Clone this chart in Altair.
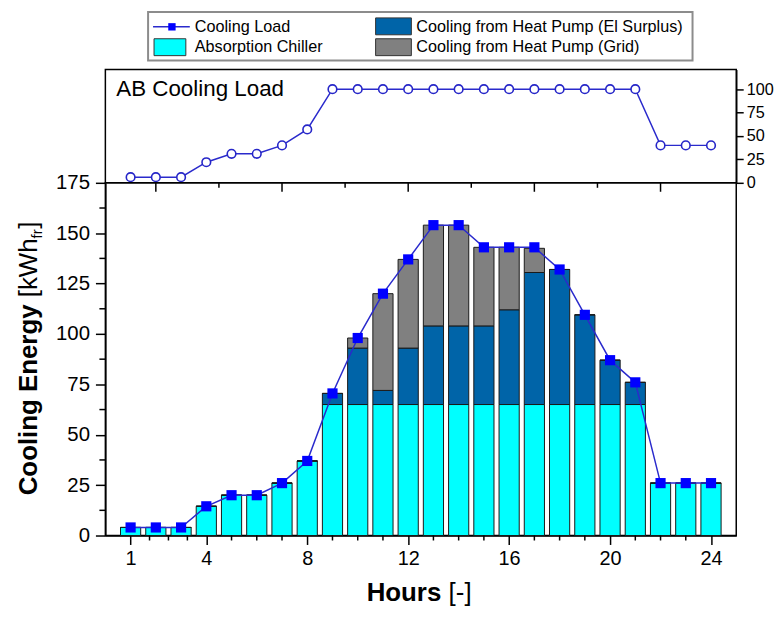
import altair as alt
import pandas as pd

# ---------------- data ----------------
hours = list(range(1, 25))
absorption_chiller = [4, 4, 4, 14.5, 20, 20, 26, 37, 65, 65, 65, 65, 65, 65, 65, 65, 65, 65, 65, 65, 65, 26, 26, 26]
hp_el_surplus = [0, 0, 0, 0, 0, 0, 0, 0, 5.5, 28, 7, 28, 39, 39, 39, 47, 65.5, 67, 44.5, 22, 11, 0, 0, 0]
hp_grid = [0, 0, 0, 0, 0, 0, 0, 0, 0, 5, 48, 44, 50, 50, 39, 31, 12, 0, 0, 0, 0, 0, 0, 0]
cooling_load = [4, 4, 4, 14.5, 20, 20, 26, 37, 70.5, 98, 120, 137, 154, 154, 143, 143, 143, 132, 109.5, 87, 76, 26, 26, 26]
ab_cooling_load = [6, 6, 6, 22, 31, 31, 40, 57, 100, 100, 100, 100, 100, 100, 100, 100, 100, 100, 100, 100, 100, 40, 40, 40]

components = ["Absorption Chiller", "Cooling from Heat Pump (El Surplus)", "Cooling from Heat Pump (Grid)"]
comp_colors = ["#00FFFF", "#0064A8", "#808080"]

x_major = [1, 4, 8, 12, 16, 20, 24]
x_minor = [1.75, 2.5, 3.25, 5, 6, 7, 9, 10, 11, 13, 14, 15, 17, 18, 19, 21, 22, 23]
y_major = [0, 25, 50, 75, 100, 125, 150, 175]
y_minor = [12.5, 37.5, 62.5, 87.5, 112.5, 137.5, 162.5]
top_ticks_major = [2, 7, 12, 17, 22]
top_ticks_minor = [4.5, 9.5, 14.5, 19.5]
ab_ticks = [0, 25, 50, 75, 100]

FONT = "Liberation Sans"
W = 635
H_LEG = 58
H_TOP = 114
H_MAIN = 355
LINE_COL = "#2A2ACC"
MARK_COL = "#0000FF"
FRAME = alt.ViewBackground(stroke="black", strokeWidth=1.5)

# ---------------- tables ----------------
rows = []
for i, h in enumerate(hours):
    base = 0.0
    for k, (c, vals) in enumerate(zip(components, [absorption_chiller, hp_el_surplus, hp_grid])):
        v = vals[i]
        rows.append({"hour": h, "comp": c, "ord": k, "lo": base, "hi": base + v})
        base += v
bars_df = pd.DataFrame(rows)
load_df = pd.DataFrame({"hour": hours, "load": cooling_load})
ab_df = pd.DataFrame({"hour": hours, "ab": ab_cooling_load})
one = pd.DataFrame({"d": [0]})

xs = alt.Scale(domain=[0, 25], nice=False, zero=False)
ys = alt.Scale(domain=[0, 175], nice=False)
ys_top = alt.Scale(domain=[0, 121], nice=False)

common = dict(grid=False, format="d", domainColor="black", domainWidth=1.5, tickColor="black",
              tickWidth=1.5, labelColor="black", labelFont=FONT)
x_axis = alt.Axis(values=x_major, tickSize=9, labelPadding=4, labelFontSize=20, **common)
y_axis = alt.Axis(values=y_major, tickSize=10, labelPadding=6, labelFontSize=20.5, **common)
r_axis = alt.Axis(orient="right", values=ab_ticks, tickSize=7, labelPadding=3, labelFontSize=16.3, **common)

# ---------------- main panel ----------------
bars = alt.Chart(bars_df).transform_calculate(
    x0="datum.hour - 0.4", x1="datum.hour + 0.4"
).mark_bar(stroke="#1a1a1a", strokeWidth=1).encode(
    x=alt.X("x0:Q", scale=xs, title=None, axis=x_axis),
    x2="x1:Q",
    y=alt.Y("lo:Q", scale=ys, title=None, axis=y_axis),
    y2="hi:Q",
    color=alt.Color("comp:N", scale=alt.Scale(domain=components, range=comp_colors), legend=None),
)

line = alt.Chart(load_df).mark_line(color=LINE_COL, strokeWidth=1.5).encode(
    x=alt.X("hour:Q", scale=xs, title=None, axis=x_axis),
    y=alt.Y("load:Q", scale=ys, title=None, axis=y_axis),
)
pts = alt.Chart(load_df).mark_point(shape="square", filled=True, color=MARK_COL, size=105, opacity=1).encode(
    x=alt.X("hour:Q", scale=xs, title=None, axis=x_axis),
    y=alt.Y("load:Q", scale=ys, title=None, axis=y_axis),
)

xminor = alt.Chart(pd.DataFrame({"h": x_minor})).mark_rule(color="black", strokeWidth=1.5).encode(
    x=alt.X("h:Q", scale=xs, title=None, axis=x_axis), y=alt.value(H_MAIN), y2=alt.value(H_MAIN + 5))
yminor = alt.Chart(pd.DataFrame({"v": y_minor})).mark_rule(color="black", strokeWidth=1.5).encode(
    y=alt.Y("v:Q", scale=ys, title=None, axis=y_axis), x=alt.value(-6), x2=alt.value(0))
topmaj = alt.Chart(pd.DataFrame({"h": top_ticks_major})).mark_rule(color="black", strokeWidth=1.5).encode(
    x=alt.X("h:Q", scale=xs, title=None, axis=x_axis), y=alt.value(0), y2=alt.value(9))
topmin = alt.Chart(pd.DataFrame({"h": top_ticks_minor})).mark_rule(color="black", strokeWidth=1.5).encode(
    x=alt.X("h:Q", scale=xs, title=None, axis=x_axis), y=alt.value(0), y2=alt.value(5))

# y title (rich text: bold + regular + subscript), reading upwards
YT_X = -77
TFS = 26


def ytext(txt, y0, fs, bold=False, dx=0):
    kw = dict(text=txt, font=FONT, fontSize=fs, angle=270, align="left", baseline="middle", color="black")
    if bold:
        kw["fontWeight"] = "bold"
    return alt.Chart(one).mark_text(**kw).encode(x=alt.value(YT_X + dx), y=alt.value(y0))


yt1 = ytext("Cooling Energy", 314.5, TFS, bold=True)
yt2 = ytext("[kWh", 115.2, TFS)
yt3 = ytext("fr", 56, 15, dx=8)
yt4 = ytext("]", 46.3, TFS)

# x title
xt1 = alt.Chart(one).mark_text(text="Hours", font=FONT, fontWeight="bold", fontSize=TFS,
                               align="left", baseline="alphabetic", color="black").encode(
    x=alt.value(263), y=alt.value(421))
xt2 = alt.Chart(one).mark_text(text="[-]", font=FONT, fontSize=TFS,
                               align="left", baseline="alphabetic", color="black").encode(
    x=alt.value(345.5), y=alt.value(421))

main = alt.layer(bars, line, pts, xminor, yminor, topmaj, topmin,
                 yt1, yt2, yt3, yt4, xt1, xt2).properties(width=W, height=H_MAIN, view=FRAME)

# ---------------- top panel ----------------
top_line = alt.Chart(ab_df).mark_line(color=LINE_COL, strokeWidth=1.5).encode(
    x=alt.X("hour:Q", scale=xs, axis=None),
    y=alt.Y("ab:Q", scale=ys_top, title=None, axis=r_axis),
)
top_pts = alt.Chart(ab_df).mark_point(shape="circle", filled=True, fill="white", stroke="#2626C8",
                                      strokeWidth=1.6, size=75, opacity=1).encode(
    x=alt.X("hour:Q", scale=xs, axis=None),
    y=alt.Y("ab:Q", scale=ys_top, title=None, axis=r_axis),
)
top_txt = alt.Chart(one).mark_text(text="AB Cooling Load", font=FONT, fontSize=22.5,
                                   align="left", baseline="middle", color="black").encode(
    x=alt.value(11), y=alt.value(20))
top = alt.layer(top_line, top_pts, top_txt).properties(width=W, height=H_TOP, view=FRAME)

# ---------------- legend panel ----------------
box = alt.Chart(one).mark_rect(fill="white", stroke="#8c8c8c", strokeWidth=2).encode(
    x=alt.value(43), x2=alt.value(591), y=alt.value(0), y2=alt.value(49))
leg_line = alt.Chart(one).mark_rule(color=LINE_COL, strokeWidth=1.5).encode(
    x=alt.value(48), x2=alt.value(85), y=alt.value(15))
leg_pt = alt.Chart(one).mark_point(shape="square", filled=True, color=MARK_COL, size=55, opacity=1).encode(
    x=alt.value(67), y=alt.value(15))


def swatch(col, x0, y0, w):
    return alt.Chart(one).mark_rect(fill=col, stroke="#333333", strokeWidth=1).encode(
        x=alt.value(x0), x2=alt.value(x0 + w), y=alt.value(y0), y2=alt.value(y0 + 17))


def label(txt, x0, y0):
    return alt.Chart(one).mark_text(text=txt, font=FONT, fontSize=16.3, align="left",
                                    baseline="middle", color="black").encode(
        x=alt.value(x0), y=alt.value(y0))


sw1 = swatch(comp_colors[0], 49, 27, 32)
sw2 = swatch(comp_colors[1], 272, 6, 36)
sw3 = swatch(comp_colors[2], 272, 27, 36)
lb0 = label("Cooling Load", 90, 15)
lb1 = label(components[0], 90, 35)
lb2 = label(components[1], 313, 15)
lb3 = label(components[2], 313, 35)

legend = alt.layer(box, leg_line, leg_pt, sw1, sw2, sw3, lb0, lb1, lb2, lb3).properties(
    width=W, height=H_LEG, view=alt.ViewBackground(stroke="transparent"))

chart = alt.vconcat(legend, top, main, spacing=0, bounds="flush").properties(
    padding={"left": 7, "top": 0, "right": 0, "bottom": 0}
).configure(background="white")

chart.save("out.html", embed_options={"renderer": "svg", "actions": False})
